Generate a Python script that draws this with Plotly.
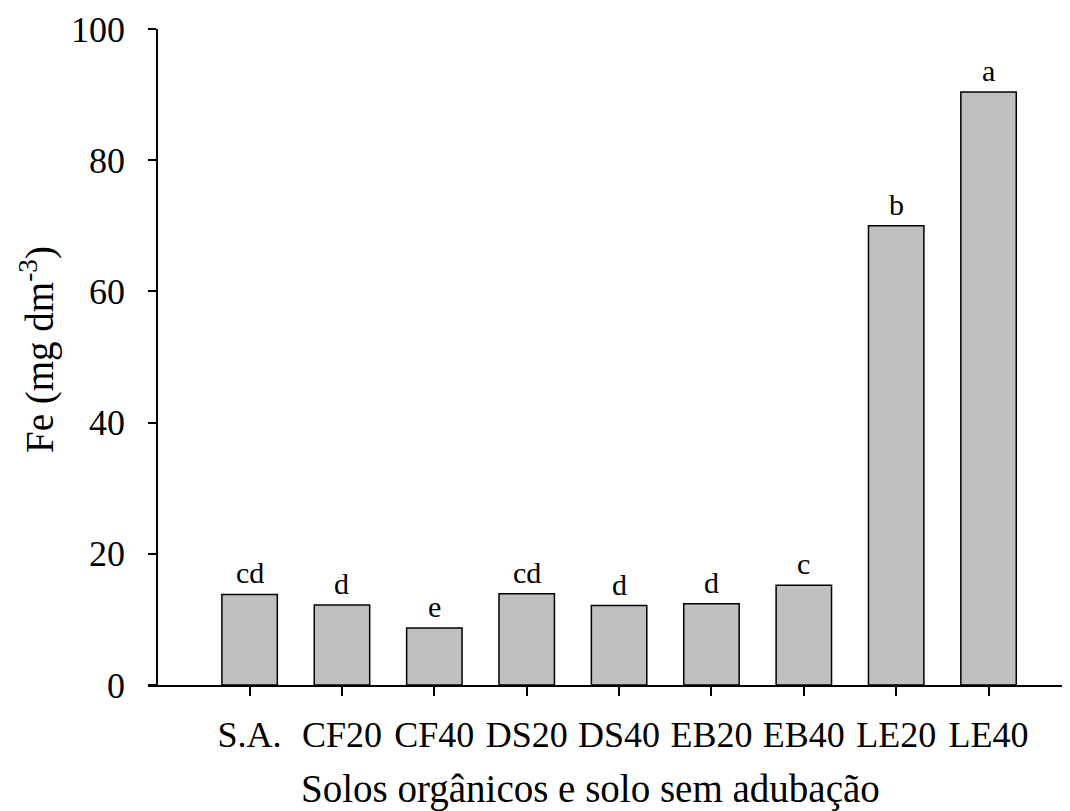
import plotly.graph_objects as go

categories = ["S.A.", "CF20", "CF40", "DS20", "DS40", "EB20", "EB40", "LE20", "LE40"]
fe_values = [13.8, 12.2, 8.7, 13.9, 12.1, 12.4, 15.2, 70.0, 90.4]
letters = ["cd", "d", "e", "cd", "d", "d", "c", "b", "a"]
y_ticks = [0, 20, 40, 60, 80, 100]

FONT = "Liberation Serif"
OFF = 8  # page body margin
W, H = 1070 - OFF, 811 - OFF
ML, MR, MT, MB = 148 - OFF, 2, 29 - OFF, 126
plot_w = W - ML - MR
plot_h = H - MT - MB
xs = list(range(len(categories)))
x_left = -1.1
x_right = 8.86
yaxis_x = -1.0


def px_to_paper_x(px):
    return (px - OFF - ML) / plot_w


def py_to_paper_y(py):
    return 1 - (py - OFF - MT) / plot_h


fig = go.Figure()
fig.add_trace(go.Bar(
    x=xs, y=fe_values, width=0.6,
    marker=dict(color="#c0c0c0", line=dict(color="black", width=1.5)),
    showlegend=False, hoverinfo="skip",
))

for xi, v, lab in zip(xs, fe_values, letters):
    fig.add_annotation(x=xi, y=v, text=lab, showarrow=False, yanchor="bottom",
                       yshift=3, font=dict(family=FONT, size=30, color="black"))

fig.update_layout(
    width=W, height=H,
    margin=dict(l=ML, r=MR, t=MT, b=MB),
    paper_bgcolor="white", plot_bgcolor="white",
    font=dict(family=FONT, color="black"),
    xaxis=dict(
        range=[x_left, x_right], tickmode="array", tickvals=xs, ticktext=categories,
        showline=True, linecolor="black", linewidth=2,
        ticks="outside", ticklen=9, tickwidth=2, tickcolor="black",
        tickfont=dict(family=FONT, size=36, color="black"),
        ticklabelstandoff=8,
        showgrid=False, zeroline=False,
    ),
    yaxis=dict(
        range=[0, 100], tickmode="array", tickvals=y_ticks,
        anchor="free", position=(yaxis_x - x_left) / (x_right - x_left),
        showline=True, linecolor="black", linewidth=2,
        ticks="outside", ticklen=8, tickwidth=2, tickcolor="black",
        tickfont=dict(family=FONT, size=36, color="black"),
        ticklabelstandoff=16,
        showgrid=False, zeroline=False,
    ),
)

fig.add_annotation(xref="paper", yref="paper", x=px_to_paper_x(590), y=py_to_paper_y(789),
                   text="Solos orgânicos e solo sem adubação", showarrow=False,
                   xanchor="center", yanchor="middle",
                   font=dict(family=FONT, size=39, color="black"))
fig.add_annotation(xref="paper", yref="paper", x=px_to_paper_x(38), y=py_to_paper_y(350),
                   text="Fe (mg dm<sup>-3</sup>)", showarrow=False, textangle=-90,
                   xanchor="center", yanchor="middle",
                   font=dict(family=FONT, size=39, color="black"))

fig.write_html("out.html")
